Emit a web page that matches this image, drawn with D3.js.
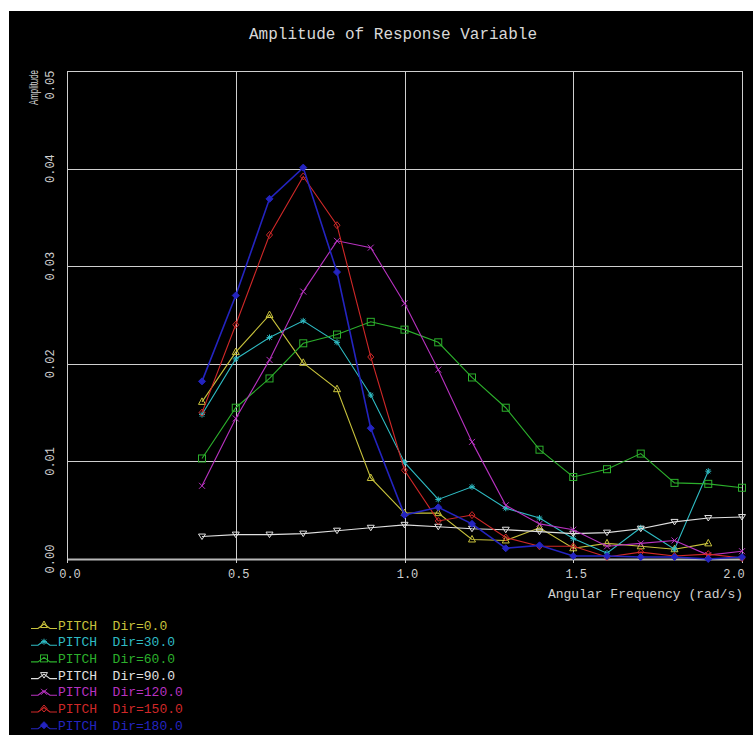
<!DOCTYPE html>
<html>
<head>
<meta charset="utf-8">
<script src="https://cdn.jsdelivr.net/npm/d3@7"></script>
<style>
  body { margin: 0; background: #fff; }
  svg { display: block; }
  text { font-family: "Liberation Mono", "DejaVu Sans Mono", monospace; }
</style>
</head>
<body>
<svg width="753" height="735"></svg>
<script>
// angular frequency (rad/s)
const freqs = [0.4, 0.5, 0.6, 0.7, 0.8, 0.9, 1.0, 1.1, 1.2, 1.3, 1.4, 1.5, 1.6, 1.7, 1.8, 1.9, 2.0];

// PITCH amplitude per heading
const dir0 = [0.0161, 0.0212, 0.0250, 0.0201, 0.0174, 0.0083, 0.0047, 0.0047, 0.0020, 0.0019, 0.0032, 0.0011, 0.0016, 0.0013, 0.0010, 0.0016];
const dir30 = [0.0148, 0.0205, 0.0227, 0.0244, 0.0222, 0.0168, 0.0099, 0.0061, 0.0074, 0.0052, 0.0042, 0.0021, 0.0006, 0.0032, 0.0010, 0.0090];
const dir60 = [0.0103, 0.0155, 0.0185, 0.0221, 0.0230, 0.0243, 0.0235, 0.0222, 0.0186, 0.0155, 0.0112, 0.0084, 0.0092, 0.0108, 0.0078, 0.0077, 0.0073];
const dir90 = [0.0023, 0.0025, 0.0025, 0.0026, 0.0029, 0.0032, 0.0035, 0.0033, 0.0031, 0.0030, 0.0028, 0.0026, 0.0027, 0.0031, 0.0038, 0.0042, 0.0043];
const dir120 = [0.0075, 0.0144, 0.0204, 0.0274, 0.0326, 0.0319, 0.0262, 0.0194, 0.0120, 0.0055, 0.0036, 0.0030, 0.0013, 0.0016, 0.0019, 0.0004, 0.0008];
const dir150 = [0.0150, 0.0240, 0.0332, 0.0392, 0.0342, 0.0207, 0.0091, 0.0039, 0.0045, 0.0022, 0.0013, 0.0013, 0.0002, 0.0007, 0.0003, 0.0005, 0.0001];
const dir180 = [0.0182, 0.0270, 0.0369, 0.0401, 0.0294, 0.0134, 0.0045, 0.0053, 0.0036, 0.0011, 0.0014, 0.0003, 0.0003, 0.0002, 0.0002, 0.0000, 0.0002];

const seriesNames = ["PITCH  Dir=0.0", "PITCH  Dir=30.0", "PITCH  Dir=60.0", "PITCH  Dir=90.0",
                     "PITCH  Dir=120.0", "PITCH  Dir=150.0", "PITCH  Dir=180.0"];
const seriesValues = [dir0, dir30, dir60, dir90, dir120, dir150, dir180];
const seriesColors = ["#c8c23c", "#2fbcc4", "#2cb02c", "#e0e0e0", "#b832c0", "#d02828", "#2424c0"];
const seriesMarkers = ["triUp", "star", "square", "triDown", "cross", "diamond", "dot"];

const xTicks = [0.0, 0.5, 1.0, 1.5, 2.0];
const yTicks = [0.00, 0.01, 0.02, 0.03, 0.04, 0.05];

const svg = d3.select("svg");
const margin = { top: 71, right: 11, bottom: 176, left: 67 };
const width = +svg.attr("width");
const height = +svg.attr("height");
const innerWidth = width - margin.left - margin.right;
const innerHeight = height - margin.top - margin.bottom;

// black background panel
svg.append("rect")
    .attr("x", 9).attr("y", 11)
    .attr("width", width - 9).attr("height", height - 11)
    .attr("fill", "#000");

const xScale = d3.scaleLinear().domain([0, 2]).range([0, innerWidth]);
const yScale = d3.scaleLinear().domain([0, 0.05]).range([innerHeight, 0]);

const g = svg.append("g").attr("transform", `translate(${margin.left}, ${margin.top})`);

// grid lines
const gridColor = "#cfcfcf";
g.selectAll(".hgrid")
    .data(yTicks)
    .enter().append("line")
    .attr("x1", 0).attr("x2", innerWidth)
    .attr("y1", d => Math.round(yScale(d)) + 0.5)
    .attr("y2", d => Math.round(yScale(d)) + 0.5)
    .attr("stroke", d => d == 0 ? "#b8b8b8" : gridColor)
    .attr("stroke-width", d => d == 0 ? 2 : 1);

g.selectAll(".vgrid")
    .data(xTicks)
    .enter().append("line")
    .attr("x1", d => Math.round(xScale(d)) + 0.5)
    .attr("x2", d => Math.round(xScale(d)) + 0.5)
    .attr("y1", 0).attr("y2", innerHeight + 4)
    .attr("stroke", gridColor)
    .attr("stroke-width", 1);

// tick labels
g.selectAll(".xlab")
    .data(xTicks)
    .enter().append("text")
    .attr("x", d => Math.min(xScale(d) + 3, innerWidth - 8))
    .attr("y", innerHeight + 19)
    .attr("text-anchor", "middle")
    .attr("font-size", 12)
    .attr("fill", "#cfcfcf")
    .text(d => d.toFixed(1));

g.selectAll(".ylab")
    .data(yTicks)
    .enter().append("text")
    .attr("transform", d => `translate(-13, ${Math.max(yScale(d), 14)}) rotate(-90)`)
    .attr("text-anchor", "middle")
    .attr("font-size", 12)
    .attr("fill", "#cfcfcf")
    .text(d => d.toFixed(2));

// titles
svg.append("text")
    .attr("x", 393).attr("y", 39)
    .attr("text-anchor", "middle")
    .attr("font-size", 16)
    .attr("fill", "#d8d8d8")
    .text("Amplitude of Response Variable");

svg.append("text")
    .attr("x", 743).attr("y", 598)
    .attr("text-anchor", "end")
    .attr("font-size", 13)
    .attr("fill", "#d0d0d0")
    .text("Angular Frequency (rad/s)");

svg.append("text")
    .attr("transform", "translate(38, 105) rotate(-90)")
    .style("font-family", "'Liberation Sans', sans-serif")
    .attr("font-size", 12)
    .attr("textLength", 35)
    .attr("lengthAdjust", "spacingAndGlyphs")
    .attr("fill", "#d0d0d0")
    .text("Amplitude");

// markers
function drawMarker(sel, type, color) {
    if (type == "triUp") {
        sel.append("path").attr("d", "M0,-4L3.5,2.5L-3.5,2.5Z")
            .attr("fill", "none").attr("stroke", color);
    } else if (type == "triDown") {
        sel.append("path").attr("d", "M0,3L3.5,-2.5L-3.5,-2.5Z")
            .attr("fill", "none").attr("stroke", color);
    } else if (type == "square") {
        sel.append("rect").attr("x", -3.5).attr("y", -3.5).attr("width", 7).attr("height", 7)
            .attr("fill", "none").attr("stroke", color);
    } else if (type == "star") {
        sel.append("path").attr("d", "M-3,0H3M0,-3V3M-2.2,-2.2L2.2,2.2M-2.2,2.2L2.2,-2.2")
            .attr("stroke", color);
    } else if (type == "cross") {
        sel.append("path").attr("d", "M-3,-3L3,3M-3,3L3,-3")
            .attr("stroke", color);
    } else if (type == "diamond") {
        sel.append("path").attr("d", "M0,-3.5L3,0L0,3.5L-3,0Z")
            .attr("fill", "none").attr("stroke", color);
    } else {
        sel.append("path").attr("d", "M0,-3.5L3.5,0L0,3.5L-3.5,0Z")
            .attr("fill", color).attr("stroke", color);
    }
}

// series
const line = d3.line()
    .x(d => xScale(d[0]))
    .y(d => yScale(d[1]));

seriesValues.forEach((vals, i) => {
    const pts = vals.map((v, j) => [freqs[j], v]);
    const color = seriesColors[i];
    g.append("path")
        .datum(pts)
        .attr("d", line)
        .attr("fill", "none")
        .attr("stroke", color)
        .attr("stroke-width", i == 6 ? 1.6 : 1.1);
    pts.forEach(p => {
        const m = g.append("g")
            .attr("transform", `translate(${xScale(p[0])}, ${yScale(p[1])})`);
        drawMarker(m, seriesMarkers[i], color);
    });
});

// legend
const legend = svg.append("g");
seriesNames.forEach((name, i) => {
    const cy = 625 + i * 16.7;
    const color = seriesColors[i];
    legend.append("path")
        .attr("d", `M31,${cy + 3.5}L38,${cy + 3.5}L44,${cy - 1}L50,${cy + 3.5}L57,${cy + 3.5}`)
        .attr("fill", "none")
        .attr("stroke", color)
        .attr("stroke-width", 1.1);
    drawMarker(legend.append("g").attr("transform", `translate(44, ${cy})`), seriesMarkers[i], color);
    legend.append("text")
        .attr("x", 58).attr("y", cy + 4.5)
        .attr("font-size", 13)
        .attr("fill", color)
        .attr("xml:space", "preserve")
        .style("white-space", "pre")
        .text(name);
});
</script>
</body>
</html>
